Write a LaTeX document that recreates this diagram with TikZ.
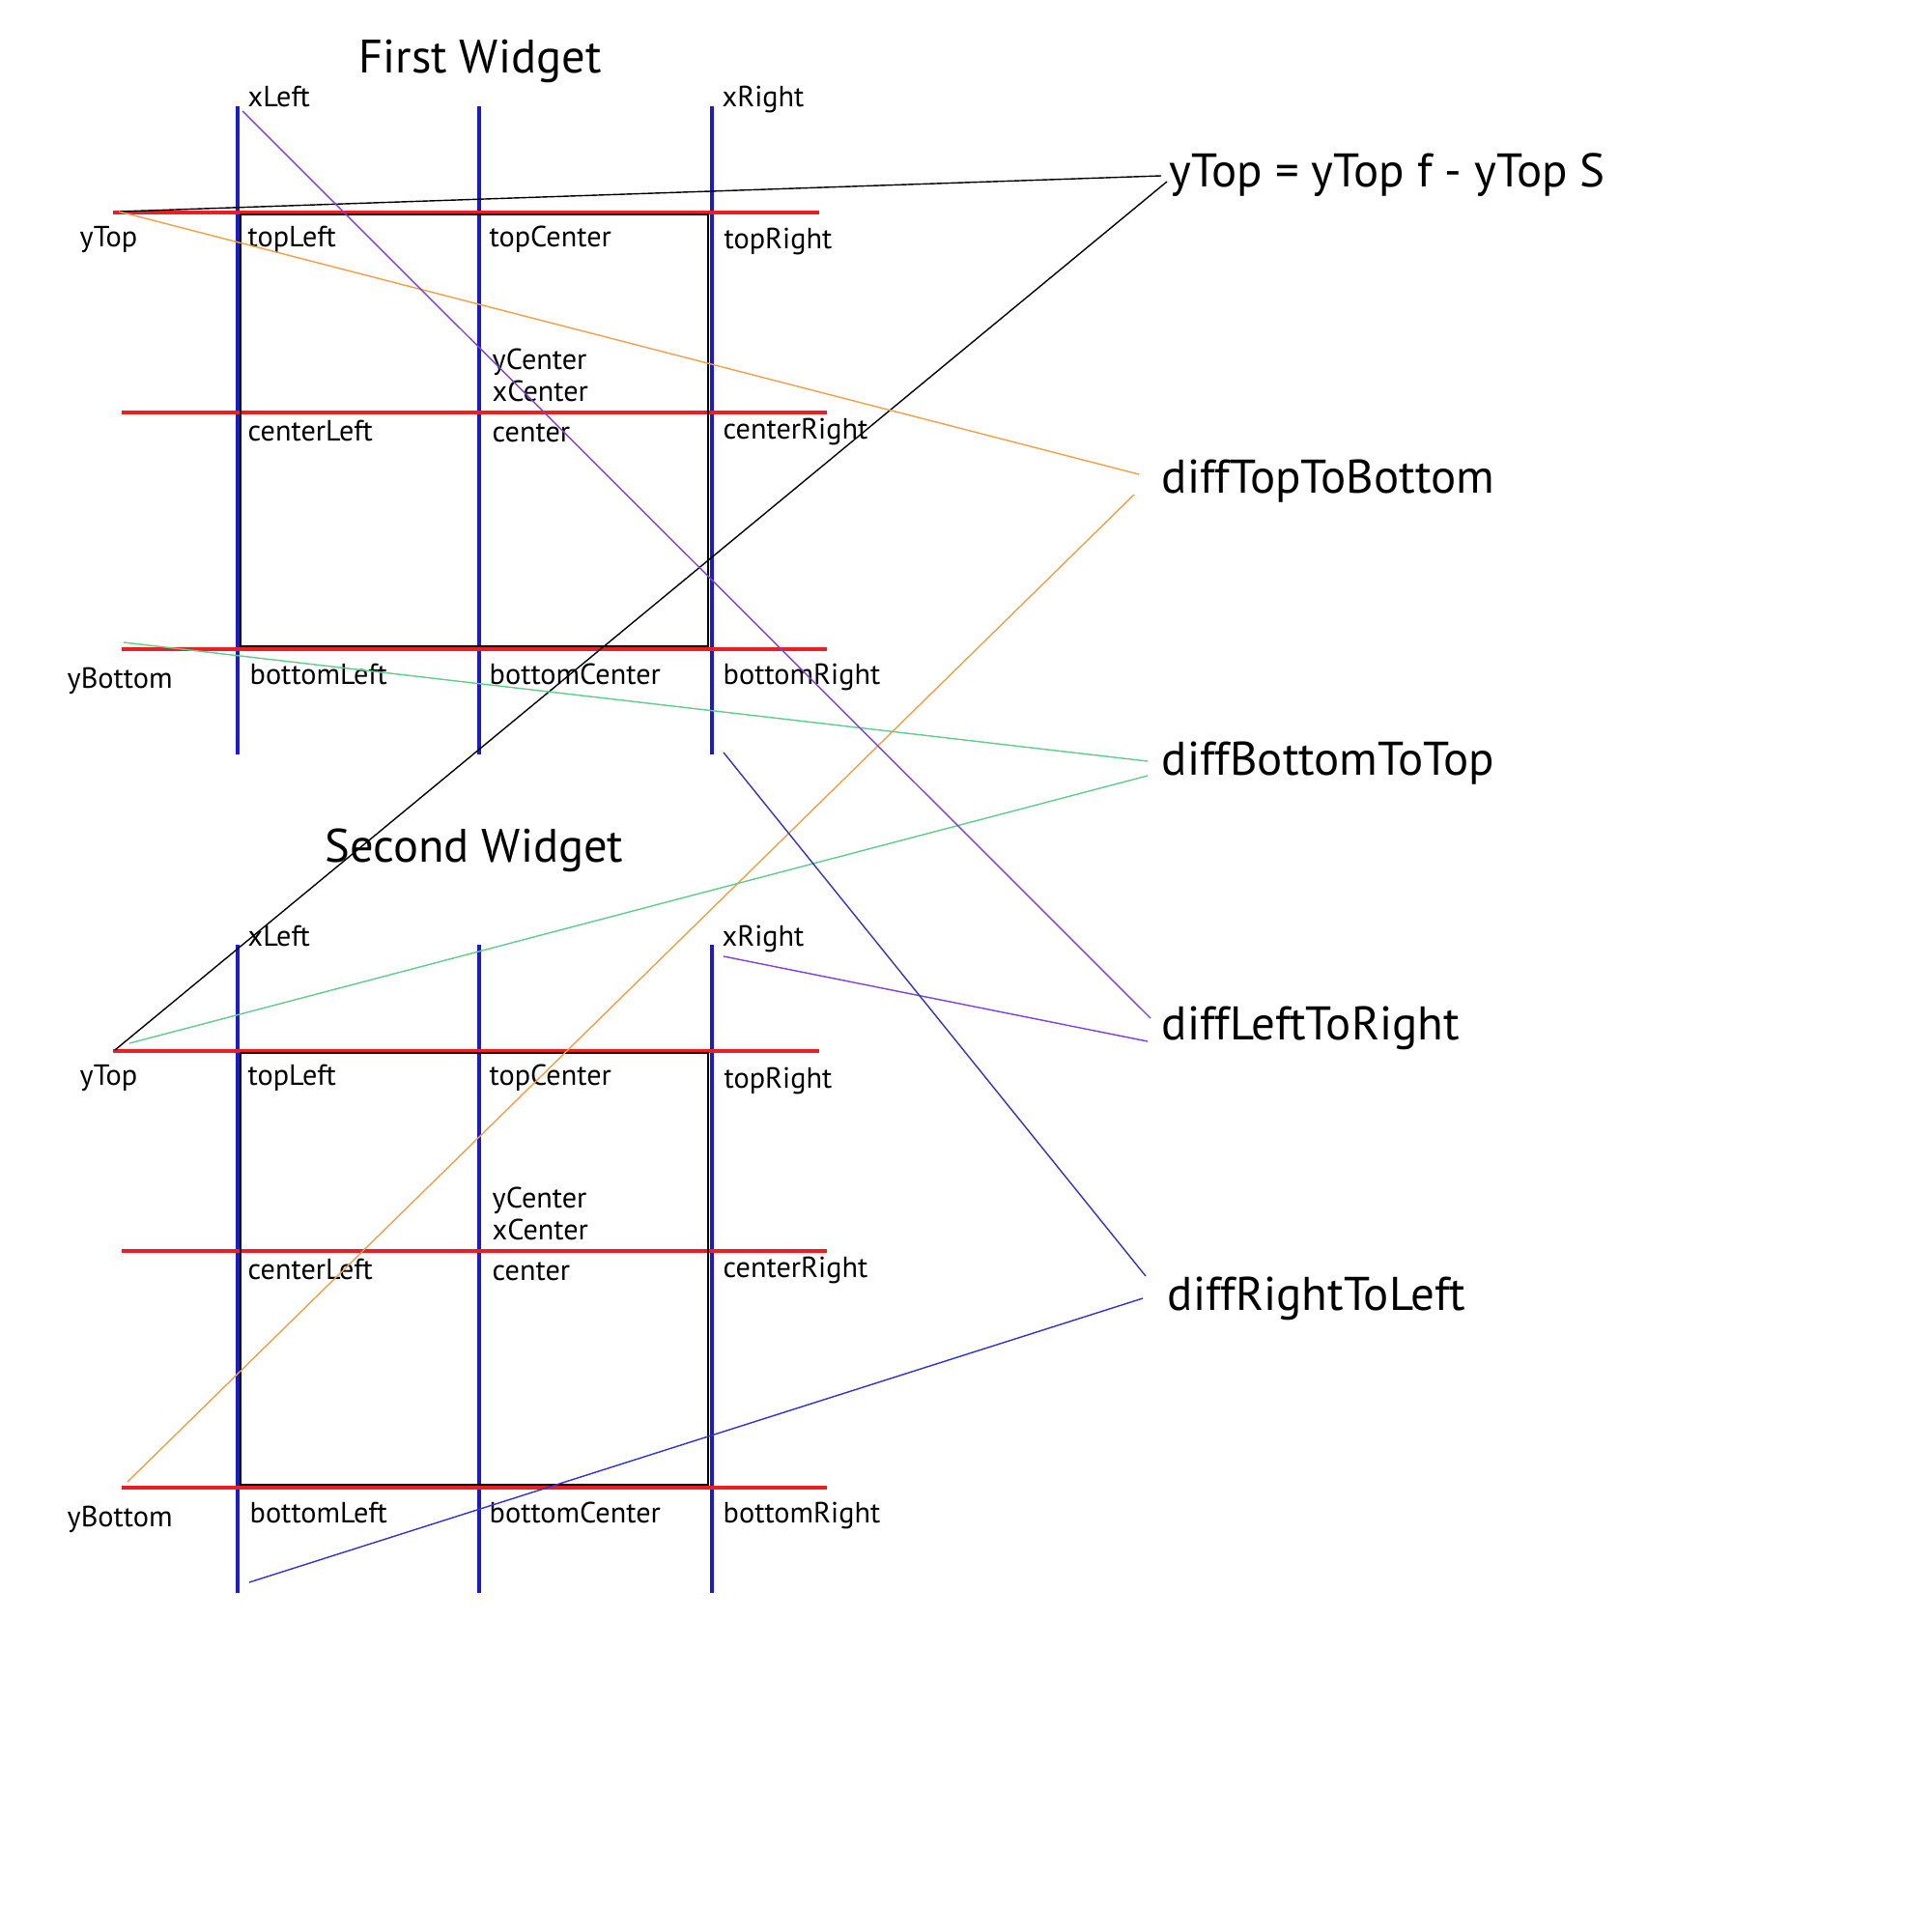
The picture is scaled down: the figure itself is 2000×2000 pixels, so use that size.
\documentclass[tikz,border=0pt]{standalone}
\usepackage{fontspec}
\setmainfont{PT Sans}
\usepackage{tikz}

\definecolor{gridred}{RGB}{235,30,35}
\definecolor{gridblue}{RGB}{25,25,215}
\definecolor{linkorange}{RGB}{242,160,70}
\definecolor{linkgreen}{RGB}{95,205,140}
\definecolor{linkpurple}{RGB}{125,65,225}
\definecolor{linkblue}{RGB}{50,50,210}

\tikzset{
  lbl/.style={anchor=base west, inner sep=0pt, font=\fontsize{8.6}{10}\selectfont},
  biglbl/.style={anchor=base west, inner sep=0pt, font=\fontsize{13.9}{16}\selectfont},
  title/.style={anchor=base, inner sep=0pt, font=\fontsize{13.8}{16}\selectfont},
  hline/.style={gridred, line width=1.1pt},
  vline/.style={gridblue, line width=0.9pt},
  frame/.style={black, line width=0.6pt},
  link/.style={line width=0.4pt}
}

\begin{document}
\begin{tikzpicture}[x=0.01cm, y=-0.01cm]
  \useasboundingbox (0,0) rectangle (2000,2000);

  % First widget
  \node[title] (titleA) at (497,76) {First Widget};
  \draw[vline] (246,110) -- (246,781);
  \draw[vline] (496,110) -- (496,781);
  \draw[vline] (737,110) -- (737,781);
  \draw[hline] (117,220) -- (848,220);
  \draw[hline] (126,427) -- (856,427);
  \draw[hline] (126,672) -- (856,672);
  \draw[frame] (249,222) rectangle (733,669);
  \node[lbl] (xLeftA) at (256,111) {xLeft};
  \node[lbl] (xRightA) at (747,111) {xRight};
  \node[lbl] (yTopA) at (82,255) {yTop};
  \node[lbl] (topLeftA) at (256,255) {topLeft};
  \node[lbl] (topCenterA) at (506,255) {topCenter};
  \node[lbl] (topRightA) at (749,258) {topRight};
  \node[lbl] (yCenterA) at (509,382) {yCenter};
  \node[lbl] (xCenterA) at (509,415) {xCenter};
  \node[lbl] (centerLeftA) at (256,456) {centerLeft};
  \node[lbl] (centerA) at (509,457) {center};
  \node[lbl] (centerRightA) at (748,454) {centerRight};
  \node[lbl] (yBottomA) at (69,712) {yBottom};
  \node[lbl] (bottomLeftA) at (258,708) {bottomLeft};
  \node[lbl] (bottomCenterA) at (506,708) {bottomCenter};
  \node[lbl] (bottomRightA) at (748,708) {bottomRight};

  % Second widget
  \node[title] (titleB) at (491,892) {Second Widget};
  \draw[vline] (246,978) -- (246,1649);
  \draw[vline] (496,978) -- (496,1649);
  \draw[vline] (737,978) -- (737,1649);
  \draw[hline] (117,1088) -- (848,1088);
  \draw[hline] (126,1295) -- (856,1295);
  \draw[hline] (126,1540) -- (856,1540);
  \draw[frame] (249,1090) rectangle (733,1537);
  \node[lbl] (xLeftB) at (256,979) {xLeft};
  \node[lbl] (xRightB) at (747,979) {xRight};
  \node[lbl] (yTopB) at (82,1123) {yTop};
  \node[lbl] (topLeftB) at (256,1123) {topLeft};
  \node[lbl] (topCenterB) at (506,1123) {topCenter};
  \node[lbl] (topRightB) at (749,1126) {topRight};
  \node[lbl] (yCenterB) at (509,1250) {yCenter};
  \node[lbl] (xCenterB) at (509,1283) {xCenter};
  \node[lbl] (centerLeftB) at (256,1324) {centerLeft};
  \node[lbl] (centerB) at (509,1325) {center};
  \node[lbl] (centerRightB) at (748,1322) {centerRight};
  \node[lbl] (yBottomB) at (69,1580) {yBottom};
  \node[lbl] (bottomLeftB) at (258,1576) {bottomLeft};
  \node[lbl] (bottomCenterB) at (506,1576) {bottomCenter};
  \node[lbl] (bottomRightB) at (748,1576) {bottomRight};

  % Differences
  \node[biglbl] (eqTop) at (1210,193) {yTop = yTop f - yTop S};
  \node[biglbl] (diffTB) at (1202,510) {diffTopToBottom};
  \node[biglbl] (diffBT) at (1202,802) {diffBottomToTop};
  \node[biglbl] (diffLR) at (1202,1076) {diffLeftToRight};
  \node[biglbl] (diffRL) at (1208,1356) {diffRightToLeft};

  % Line ends
  \coordinate (topA) at (123,219);
  \coordinate (topB) at (119,1087);
  \coordinate (topBg) at (134,1080);
  \coordinate (botA) at (128,665);
  \coordinate (botB) at (132,1534);
  \coordinate (leftA) at (251,115);
  \coordinate (leftB) at (258,1638);
  \coordinate (rightA) at (749,779);
  \coordinate (rightB) at (749,990);
  \coordinate (eqIn1) at (1202,182);
  \coordinate (eqIn2) at (1208,188);
  \coordinate (tbIn1) at (1179,491);
  \coordinate (tbIn2) at (1174,512);
  \coordinate (btIn1) at (1188,788);
  \coordinate (btIn2) at (1188,803);
  \coordinate (lrIn1) at (1191,1054);
  \coordinate (lrIn2) at (1188,1078);
  \coordinate (rlIn1) at (1186,1321);
  \coordinate (rlIn2) at (1183,1344);

  \draw[link, black] (topA) -- (eqIn1);
  \draw[link, black] (eqIn2) -- (topB);
  \draw[link, linkorange] (topA) -- (tbIn1);
  \draw[link, linkorange] (botB) -- (tbIn2);
  \draw[link, linkgreen] (botA) -- (btIn1);
  \draw[link, linkgreen] (topBg) -- (btIn2);
  \draw[link, linkpurple] (leftA) -- (lrIn1);
  \draw[link, linkpurple] (rightB) -- (lrIn2);
  \draw[link, linkblue] (rightA) -- (rlIn1);
  \draw[link, linkblue] (leftB) -- (rlIn2);
\end{tikzpicture}
\end{document}
